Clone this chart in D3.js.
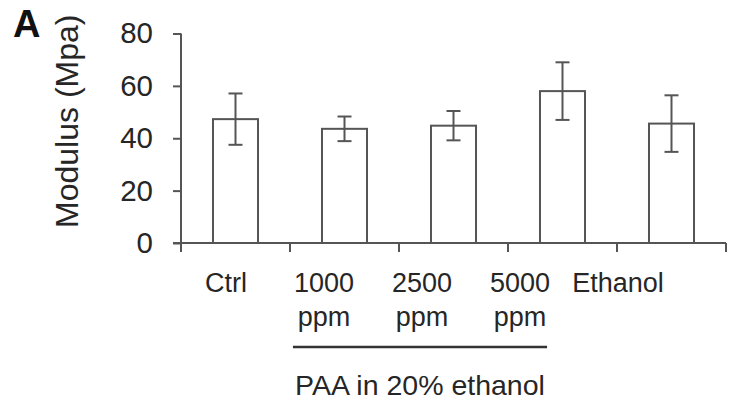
<!DOCTYPE html>
<html>
<head>
<meta charset="utf-8">
<script src="https://cdn.jsdelivr.net/npm/d3@7"></script>
<style>
  html, body { margin: 0; padding: 0; background: #fff; }
  svg { display: block; font-family: "Liberation Sans", Arial, sans-serif; }
</style>
</head>
<body>
<svg id="chart" width="730" height="403"></svg>
<script>
// ---- data ----
const categories = ["Ctrl", "1000 ppm", "2500 ppm", "5000 ppm", "Ethanol"];
const labelLine1 = ["Ctrl", "1000", "2500", "5000", "Ethanol"];
const labelLine2 = ["", "ppm", "ppm", "ppm", ""];
const means = [47.3, 43.6, 44.8, 58.0, 45.6];
const errors = [9.8, 4.7, 5.6, 11.0, 10.8];
const yTicks = [0, 20, 40, 60, 80];
const groupMembers = ["1000 ppm", "2500 ppm", "5000 ppm"];
const groupLabel = "PAA in 20% ethanol";
const yTitle = "Modulus (Mpa)";
const panelLetter = "A";

// ---- layout ----
const svg = d3.select("#chart");
const ink = "#555";
const textColor = "#262626";

const x = d3.scaleBand().domain(categories).range([181, 726])
  .paddingInner(0.587).paddingOuter(0.2935);
const y = d3.scaleLinear().domain([0, 80]).range([243, 33.5]);
const labelX = d3.scalePoint().domain(categories).range([226, 618]);

// y axis
const yAxis = svg.append("g").attr("transform", `translate(${x.range()[0]},0)`)
  .call(d3.axisLeft(y).tickValues(yTicks).tickSize(8).tickPadding(20));
yAxis.select(".domain").attr("stroke", ink).attr("stroke-width", 2)
  .attr("d", `M0,${y(80)}V${y(0)}`);
yAxis.selectAll(".tick line").attr("stroke", ink).attr("stroke-width", 2);
yAxis.selectAll(".tick text").attr("font-size", 29.5).attr("fill", textColor)
  .attr("font-family", "'Liberation Sans', Arial, sans-serif");

// x axis (line + boundary ticks)
const step = x.step();
const boundaries = d3.range(categories.length + 1).map(i => x.range()[0] + i * step);
const xAxisG = svg.append("g");
xAxisG.append("line")
  .attr("x1", x.range()[0] - 8).attr("x2", boundaries[boundaries.length - 1])
  .attr("y1", y(0)).attr("y2", y(0))
  .attr("stroke", ink).attr("stroke-width", 2);
xAxisG.selectAll("line.bt").data(boundaries).enter().append("line")
  .attr("class", "bt")
  .attr("x1", d => d).attr("x2", d => d)
  .attr("y1", y(0)).attr("y2", y(0) + 9)
  .attr("stroke", ink).attr("stroke-width", 2);

// bars
const data = categories.map((c, i) => ({ c, m: means[i], e: errors[i] }));
svg.append("g").selectAll("rect").data(data).enter().append("rect")
  .attr("x", d => x(d.c))
  .attr("y", d => y(d.m))
  .attr("width", x.bandwidth())
  .attr("height", d => y(0) - y(d.m))
  .attr("fill", "#fff")
  .attr("stroke", ink).attr("stroke-width", 2);

// error bars
const capW = 14;
const eb = svg.append("g").selectAll("g").data(data).enter().append("g")
  .attr("stroke", ink).attr("stroke-width", 2);
eb.append("line")
  .attr("x1", d => x(d.c) + x.bandwidth() / 2).attr("x2", d => x(d.c) + x.bandwidth() / 2)
  .attr("y1", d => y(d.m + d.e)).attr("y2", d => y(d.m - d.e));
eb.append("line")
  .attr("x1", d => x(d.c) + x.bandwidth() / 2 - capW / 2).attr("x2", d => x(d.c) + x.bandwidth() / 2 + capW / 2)
  .attr("y1", d => y(d.m + d.e)).attr("y2", d => y(d.m + d.e));
eb.append("line")
  .attr("x1", d => x(d.c) + x.bandwidth() / 2 - capW / 2).attr("x2", d => x(d.c) + x.bandwidth() / 2 + capW / 2)
  .attr("y1", d => y(d.m - d.e)).attr("y2", d => y(d.m - d.e));

// x labels
const labels = svg.append("g").attr("font-size", 27).attr("fill", textColor)
  .attr("text-anchor", "middle");
const labelTexts = labels.selectAll("text").data(categories).enter().append("text")
  .attr("x", d => labelX(d))
  .attr("y", 292);
labelTexts.append("tspan").attr("x", d => labelX(d)).attr("y", 292)
  .text((d, i) => labelLine1[i]);
labelTexts.append("tspan").attr("x", d => labelX(d)).attr("y", 326)
  .text((d, i) => labelLine2[i]);

// group underline
const boxes = groupMembers.map(g => labelTexts.filter(d => d === g).node().getBBox());
const gx1 = boxes[0].x - 1;
const gx2 = boxes[boxes.length - 1].x + boxes[boxes.length - 1].width - 3;
svg.append("line")
  .attr("x1", gx1).attr("x2", gx2).attr("y1", 347).attr("y2", 347)
  .attr("stroke", "#333").attr("stroke-width", 2.5);
svg.append("text")
  .attr("x", (gx1 + gx2) / 2).attr("y", 395)
  .attr("text-anchor", "middle").attr("font-size", 28.5).attr("fill", textColor)
  .text(groupLabel);

// y title
svg.append("text")
  .attr("transform", `translate(78,${(y(80) + y(0)) / 2 - 17}) rotate(-90)`)
  .attr("text-anchor", "middle").attr("font-size", 32).attr("fill", textColor)
  .text(yTitle);

// panel letter
svg.append("text")
  .attr("x", 13).attr("y", 37)
  .attr("font-size", 38).attr("font-weight", "bold").attr("fill", "#111")
  .text(panelLetter);
</script>
</body>
</html>
